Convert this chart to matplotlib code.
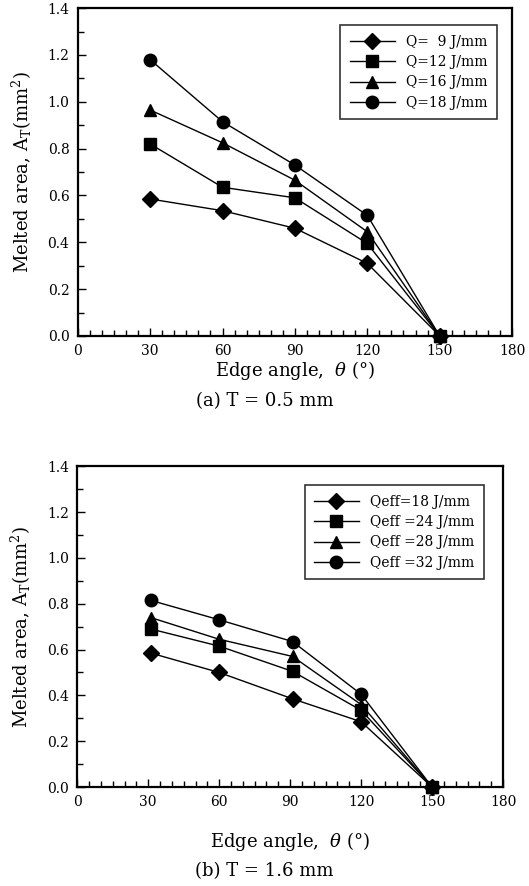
import matplotlib
matplotlib.use("Agg")
import matplotlib.pyplot as plt
from matplotlib.ticker import MultipleLocator

plt.rcParams['font.family'] = ['DejaVu Serif']
plt.rcParams['mathtext.fontset'] = 'dejavuserif'

# Panel (a) T = 0.5 mm
angles_a = [30, 60, 90, 120, 150]
q9 = [0.585, 0.535, 0.46, 0.31, 0.0]
q12 = [0.82, 0.635, 0.59, 0.395, 0.0]
q16 = [0.965, 0.825, 0.665, 0.445, 0.0]
q18 = [1.18, 0.915, 0.73, 0.515, 0.0]
labels_a = ["Q=  9 J/mm", "Q=12 J/mm", "Q=16 J/mm", "Q=18 J/mm"]

# Panel (b) T = 1.6 mm
angles_b = [31, 60, 91, 120, 150]
qe18 = [0.585, 0.50, 0.385, 0.285, 0.0]
qe24 = [0.69, 0.615, 0.505, 0.335, 0.0]
qe28 = [0.74, 0.645, 0.57, 0.36, 0.0]
qe32 = [0.815, 0.73, 0.635, 0.405, 0.0]
labels_b = ["Qeff=18 J/mm", "Qeff =24 J/mm", "Qeff =28 J/mm", "Qeff =32 J/mm"]

markers = ['D', 's', '^', 'o']
msizes = [8.5, 8.5, 8.5, 9]

fig = plt.figure(figsize=(5.29, 8.86), dpi=100)
ax1 = fig.add_axes([0.147, 0.6208, 0.821, 0.370])
ax2 = fig.add_axes([0.146, 0.1117, 0.805, 0.362])

def style(ax, xlabel_y):
    ax.set_xlim(0, 180)
    ax.set_ylim(0, 1.4)
    ax.xaxis.set_major_locator(MultipleLocator(30))
    ax.xaxis.set_minor_locator(MultipleLocator(5))
    ax.yaxis.set_major_locator(MultipleLocator(0.2))
    ax.yaxis.set_minor_locator(MultipleLocator(0.1))
    ax.yaxis.set_major_formatter(matplotlib.ticker.FormatStrFormatter('%.1f'))
    ax.tick_params(which='both', direction='in', top=False, right=False, labelsize=10, width=1, color='black')
    ax.tick_params(which='major', length=6, pad=6)
    ax.tick_params(which='minor', length=4)
    for sp in ax.spines.values():
        sp.set_linewidth(1.6)
    ax.set_xlabel(r"Edge angle,  $\theta$ (°)", fontsize=13, va='center')
    ax.xaxis.set_label_coords(0.5, xlabel_y)
    ax.set_ylabel(r"Melted area, A$_{\mathrm{T}}$(mm$^2$)", fontsize=13, labelpad=10)

series_a = [q9, q12, q16, q18]
for ys, m, ms, lab in zip(series_a, markers, msizes, labels_a):
    ax1.plot(angles_a, ys, color='black', lw=1, marker=m, ms=ms, label=lab, clip_on=False, zorder=3)
style(ax1, (336 - 371) / 327.8)
leg1 = ax1.legend(loc='upper right', bbox_to_anchor=(0.965, 0.948), borderaxespad=0, frameon=True, fancybox=False,
                  edgecolor='black', fontsize=10, handlelength=3.2, borderpad=0.7, labelspacing=0.45)
leg1.get_frame().set_linewidth(1.2)

series_b = [qe18, qe24, qe28, qe32]
for ys, m, ms, lab in zip(series_b, markers, msizes, labels_b):
    ax2.plot(angles_b, ys, color='black', lw=1, marker=m, ms=ms, label=lab, clip_on=False, zorder=3)
style(ax2, (787 - 841) / 320.7)
leg2 = ax2.legend(loc='upper right', bbox_to_anchor=(0.955, 0.941), borderaxespad=0, frameon=True, fancybox=False,
                  edgecolor='black', fontsize=10, handlelength=3.2, borderpad=0.7, labelspacing=0.45)
leg2.get_frame().set_linewidth(1.2)

fig.text(0.5, 1 - 401/886, "(a) T = 0.5 mm", ha='center', va='center', fontsize=13)
fig.text(0.5, 1 - 871/886, "(b) T = 1.6 mm", ha='center', va='center', fontsize=13)

fig.savefig("out.png", dpi=100)
